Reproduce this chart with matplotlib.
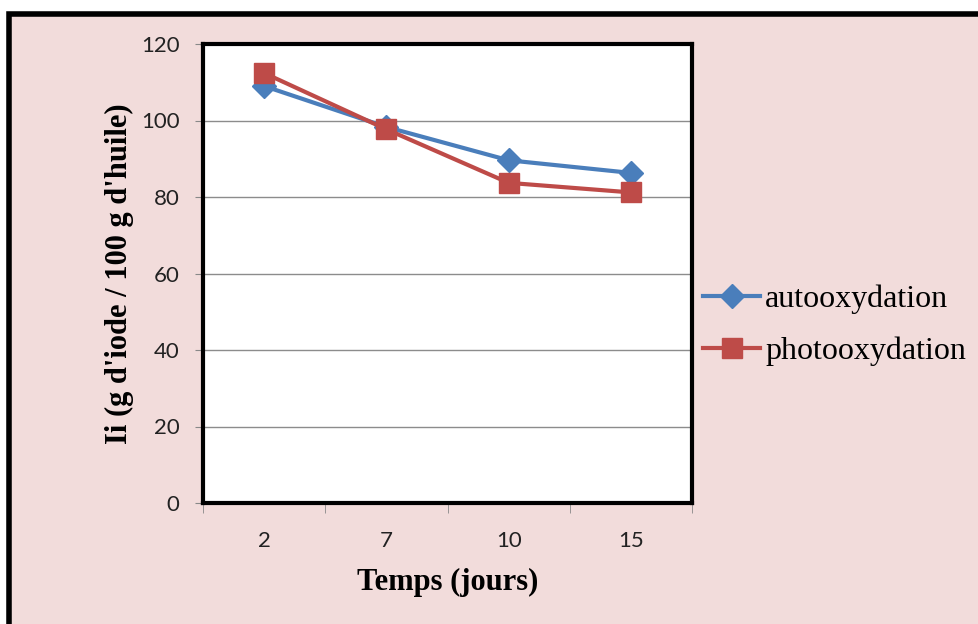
import matplotlib
matplotlib.use("Agg")
import matplotlib.pyplot as plt
from matplotlib.patches import Rectangle
import numpy as np

categories = ["2", "7", "10", "15"]
autooxydation = [109.0, 98.3, 89.6, 86.3]
photooxydation = [112.4, 97.7, 83.7, 81.2]
yticks = [0, 20, 40, 60, 80, 100, 120]

bg = "#F2DCDB"
fig = plt.figure(figsize=(9.79, 6.24), dpi=100, facecolor="white")
fig.patches.append(Rectangle((9/979, -0.1), 1.2, 1 - 14/624 + 0.1, transform=fig.transFigure,
                             facecolor=bg, edgecolor="black", linewidth=4, zorder=-10))

ax = fig.add_axes([203/979, 1 - 503/624, 489/979, 459/624])
ax.set_facecolor("white")
x = np.arange(len(categories))
ax.plot(x, autooxydation, color="#4A7EBB", lw=3, marker="D", ms=12, label="autooxydation", zorder=3)
ax.plot(x, photooxydation, color="#BE4B48", lw=3, marker="s", ms=14.5, label="photooxydation", zorder=4)

ax.set_xlim(-0.5, len(categories) - 0.5)
ax.set_ylim(0, 120)
ax.set_yticks(yticks)
ax.set_xticks(x)
ax.set_xticklabels(categories)
ax.set_xticks(np.arange(-0.5, len(categories)), minor=True)
ax.tick_params(axis="x", which="major", length=0, pad=20)
ax.tick_params(axis="x", which="minor", length=7, color="#888888", direction="out")
ax.tick_params(axis="y", length=6, color="#888888", direction="out", pad=11)
for lab in ax.get_xticklabels() + ax.get_yticklabels():
    lab.set_fontfamily("Lato")
    lab.set_fontsize(16)
    lab.set_color("#222222")
ax.yaxis.grid(True, color="#8C8C8C", lw=1)
ax.set_axisbelow(True)
for s in ax.spines.values():
    s.set_color("black")
    s.set_linewidth(3)

ax.set_xlabel("Temps (jours)", fontfamily="Liberation Serif", fontweight="bold", fontsize=22, labelpad=12)
ax.set_ylabel("Ii (g d'iode / 100 g d'huile)", fontfamily="Liberation Serif", fontweight="bold", fontsize=22, labelpad=5)

leg = fig.legend(loc="center left", bbox_to_anchor=(703/979, 1 - 325/624), frameon=False,
                 prop={"family": "Liberation Serif", "size": 23}, handlelength=1.8,
                 handletextpad=0.15, labelspacing=0.7, borderaxespad=0, borderpad=0)

fig.savefig("out.png", dpi=100, facecolor="white")
